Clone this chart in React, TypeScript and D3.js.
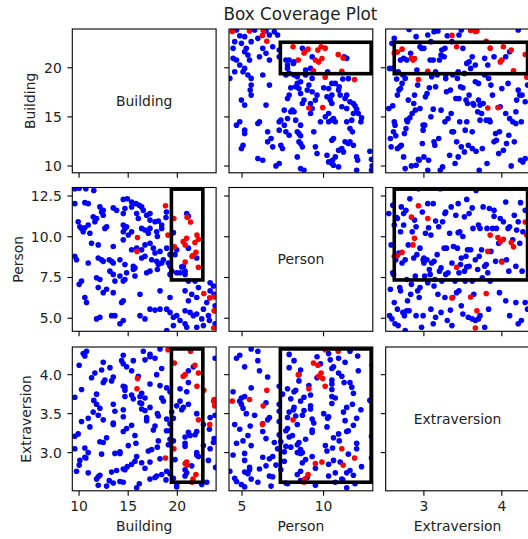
import React from "react";
import * as d3 from "d3";

const variables = ["Building", "Person", "Extraversion"];

// points outside the highlighted class
const blueBuilding = [
  9.57, 10.01, 10.69, 11.5, 9.57, 10.59, 10.93, 12.12, 12.46, 14.5,
  14.91, 15.35, 15.79, 16.13, 16.37, 16.54, 15.35, 12.29, 12.46, 13.48,
  13.82, 14.67, 14.5, 15.86, 16.03, 16.88, 17.22, 17.73, 18.07, 18.41,
  11.44, 11.78, 11.61, 17.22, 10.08, 10.25, 10.59, 10.42, 11.1, 10.93,
  12.63, 12.8, 14.5, 14.67, 14.84, 14.5, 15.35, 16.37, 16.71, 17.05,
  17.22, 17.9, 17.97, 18.41, 9.91, 11.27, 11.95, 13.48, 14.5, 15.01,
  15.35, 15.86, 16.37, 16.71, 17.22, 17.56, 17.73, 18.24, 18.92, 19.26,
  19.77, 19.94, 21.13, 9.57, 9.74, 11.95, 12.29, 12.46, 13.07, 13.31,
  13.48, 14.16, 14.67, 15.52, 15.69, 16.37, 16.71, 17.39, 17.9, 18.07,
  18.41, 18.58, 19.09, 19.26, 20.79, 20.62, 10.93, 10.25, 10.01, 11.78,
  12.12, 13.14, 13.48, 13.65, 14.16, 14.5, 14.67, 14.84, 15.52, 15.69,
  16.88, 17.22, 17.97, 19.26, 19.43, 19.94, 20.79, 21.13, 21.81, 23.34,
  23.68, 10.59, 10.76, 11.95, 12.46, 12.8, 13.48, 14.33, 14.5, 16.2,
  18.24, 19.26, 20.79, 21.13, 21.47, 21.98, 22.15, 23.34, 23.0, 23.75,
  11.78, 12.12, 13.31, 13.65, 14.5, 14.16, 16.2, 16.71, 17.22, 17.73,
  18.24, 18.92, 19.26, 19.6, 19.94, 20.28, 20.79, 21.3, 21.64, 21.98,
  22.49, 22.66, 23.17, 23.27, 23.85, 23.9, 19.6, 20.79, 20.96, 18.92,
  21.98, 22.66, 23.85, 19.6, 20.96, 21.13, 21.98, 20.45, 20.28, 18.9,
  18.85,
];
const bluePerson = [
  12.94, 12.98, 12.94, 12.84, 12.03, 12.09, 12.03, 11.83, 11.62, 12.29,
  12.33, 12.13, 12.03, 11.93, 11.83, 11.62, 11.83, 11.52, 11.32, 11.77,
  11.62, 11.73, 11.42, 11.42, 11.12, 11.32, 11.02, 10.92, 10.96, 10.72,
  11.22, 11.12, 10.92, 11.42, 10.61, 10.51, 10.55, 10.31, 10.21, 10.72,
  10.51, 10.61, 10.72, 10.51, 10.61, 10.31, 10.31, 10.51, 10.41, 10.21,
  10.51, 10.31, 10.01, 10.51, 10.92, 9.6, 9.5, 9.4, 9.81, 10.11,
  9.2, 9.3, 9.2, 9.5, 9.6, 9.3, 9.0, 9.1, 9.3, 8.9,
  8.9, 9.2, 9.3, 8.8, 8.59, 8.7, 8.59, 8.49, 8.59, 8.49,
  8.39, 8.59, 8.29, 8.19, 8.09, 8.7, 8.8, 8.59, 8.49, 8.29,
  8.39, 8.59, 8.39, 8.19, 7.89, 8.19, 8.39, 7.28, 7.08, 7.48,
  7.38, 7.89, 7.69, 7.28, 7.59, 7.28, 7.38, 7.79, 7.99, 7.59,
  7.79, 7.89, 7.99, 7.69, 7.89, 7.79, 7.69, 7.28, 7.28, 7.18,
  6.98, 6.27, 5.97, 6.88, 6.57, 6.78, 6.57, 5.97, 6.07, 6.47,
  6.68, 6.27, 6.68, 6.07, 6.47, 6.27, 6.88, 6.68, 5.97, 6.47,
  4.96, 5.06, 5.16, 5.16, 4.86, 4.66, 5.16, 4.96, 5.56, 5.5,
  5.56, 5.56, 5.36, 5.06, 5.16, 4.86, 5.46, 5.36, 5.16, 5.26,
  4.96, 5.56, 5.16, 4.86, 5.77, 5.46, 4.55, 4.66, 4.45, 4.25,
  4.45, 4.55, 4.66, 10.25, 11.42, 11.26, 8.7, 8.15, 7.79, 11.52,
  11.18,
];
const blueExtraversion = [
  3.21, 4.12, 2.93, 3.67, 3.05, 4.24, 3.44, 2.71, 3.9, 3.55,
  2.82, 4.05, 3.12, 2.6, 3.76, 4.3, 3.35, 2.98, 4.16, 3.62,
  2.77, 3.84, 3.27, 2.55, 3.98, 3.41, 2.88, 4.21, 3.15, 3.7,
  3.52, 2.66, 4.02, 3.58, 2.9, 3.81, 3.06, 4.27, 3.33, 2.74,
  3.93, 3.19, 2.62, 3.72, 4.1, 3.46, 2.85, 3.63, 4.19, 3.02,
  3.88, 2.7, 3.5, 4.08, 3.24, 3.96, 2.58, 3.38, 4.14, 3.09,
  3.74, 2.95, 3.56, 2.8, 4.23, 3.29, 2.68, 3.86, 3.43, 3.17,
  2.91, 3.6, 3.26, 3.71, 2.76, 3.48, 4.06, 3.13, 2.64, 3.92,
  3.36, 2.99, 3.8, 4.18, 3.22, 2.87, 3.54, 3.04, 4.0, 3.47,
  2.72, 3.66, 3.1, 3.78, 3.2, 3.58, 3.0, 3.4, 2.84, 3.75,
  3.14, 4.09, 2.61, 3.53, 3.01, 3.85, 2.78, 3.31, 3.69, 2.89,
  3.45, 4.26, 3.07, 3.28, 3.52, 2.6, 3.08, 3.62, 3.23, 3.05,
  3.13, 2.94, 4.3, 2.69, 3.42, 2.57, 3.97, 4.18, 2.79, 3.64,
  2.92, 3.37, 2.7, 4.05, 2.83, 3.27, 2.95, 3.45, 2.62, 3.18,
  3.62, 3.57, 2.75, 2.99, 4.25, 2.63, 3.72, 3.7, 2.66, 3.34,
  4.33, 3.83, 2.73, 3.15, 2.56, 3.66, 2.78, 3.22, 4.1, 3.5,
  2.59, 3.09, 2.9, 3.3, 3.48, 2.81, 2.67, 3.12, 3.78, 2.76,
  2.97, 3.36, 4.21, 3.44, 2.74, 3.9, 3.0, 3.55, 3.82, 3.28,
  2.65,
];

// highlighted points
const redBuilding = [
  18.8, 19.65, 21.0, 21.35, 19.05, 20.95, 20.6, 22.0, 22.15, 20.8,
  21.8, 19.7, 21.6, 21.5, 21.9, 20.8, 22.15, 15.95, 15.9, 22.7,
  23.3, 23.8, 23.75, 23.7,
];
const redPerson = [
  11.9, 11.12, 11.2, 10.9, 10.1, 9.9, 9.7, 10.1, 9.85, 9.5,
  9.65, 9.38, 8.85, 8.8, 9.05, 8.45, 8.13, 9.95, 9.1, 6.52,
  6.25, 6.3, 5.46, 4.4,
];
const redExtraversion = [
  2.93, 3.05, 2.84, 4.3, 4.32, 2.88, 3.98, 3.85, 4.02, 2.86,
  4.12, 4.15, 2.66, 2.62, 2.72, 4.0, 3.42, 3.95, 3.82, 3.8,
  3.36, 3.6, 3.68, 3.66,
];

// coverage box per variable
const boxLimits: Record<string, number[]> = {
  Building: [19.4, 22.6],
  Person: [7.35, 12.92],
  Extraversion: [2.62, 4.33],
};

const domains: Record<string, number[]> = {
  Building: [9.31, 23.95],
  Person: [4.2, 13.02],
  Extraversion: [2.51, 4.355],
};

const xTickValues: Record<string, number[]> = {
  Building: [10, 15, 20],
  Person: [5, 10],
  Extraversion: [3, 4],
};
const yTickValues: Record<string, number[]> = {
  Building: [10, 15, 20],
  Person: [5, 7.5, 10, 12.5],
  Extraversion: [3, 3.5, 4],
};
const yTickFormat: Record<string, (n: number) => string> = {
  Building: d3.format("d"),
  Person: d3.format(".1f"),
  Extraversion: d3.format(".1f"),
};

const FONT = "DejaVu Sans, sans-serif";

export default function App() {
  const width = 528;
  const height = 539;
  const colLeft = [72.3, 229, 385.7];
  const rowTop = [29, 187.5, 347];
  const size = 143.8;
  const tickLen = 4.9;
  const ylabelX = [35.2, 22.5, 31];

  const values: Record<string, { blue: number[]; red: number[] }> = {
    Building: { blue: blueBuilding, red: redBuilding },
    Person: { blue: bluePerson, red: redPerson },
    Extraversion: { blue: blueExtraversion, red: redExtraversion },
  };

  const xs = variables.map((v, i) =>
    d3.scaleLinear().domain(domains[v]).range([colLeft[i], colLeft[i] + size])
  );
  const ys = variables.map((v, i) =>
    d3.scaleLinear().domain(domains[v]).range([rowTop[i] + size, rowTop[i]])
  );

  const panels: JSX.Element[] = [];
  variables.forEach((rowVar, r) => {
    variables.forEach((colVar, c) => {
      const x = xs[c];
      const y = ys[r];
      const left = colLeft[c];
      const top = rowTop[r];
      const id = `clip-${r}-${c}`;
      const content: JSX.Element[] = [];

      if (r === c) {
        content.push(
          <text
            key="diag"
            x={left + size / 2}
            y={top + size / 2}
            textAnchor="middle"
            dominantBaseline="central"
            fontSize={13.9}
            fontFamily={FONT}
            fill="#222"
          >
            {rowVar}
          </text>
        );
      } else {
        const bx = values[colVar].blue;
        const by = values[rowVar].blue;
        const rx = values[colVar].red;
        const ry = values[rowVar].red;
        const bc = boxLimits[colVar];
        const br = boxLimits[rowVar];
        content.push(
          <g key="pts" clipPath={`url(#${id})`}>
            {bx.map((v, i) => (
              <circle key={"b" + i} cx={x(v)} cy={y(by[i])} r={2.8} fill="#0000ff" />
            ))}
            {rx.map((v, i) => (
              <circle key={"r" + i} cx={x(v)} cy={y(ry[i])} r={2.8} fill="#ff0000" />
            ))}
            <rect
              x={x(bc[0])}
              y={y(br[1])}
              width={x(bc[1]) - x(bc[0])}
              height={y(br[0]) - y(br[1])}
              fill="none"
              stroke="#000"
              strokeWidth={3.6}
            />
          </g>
        );
      }

      // ticks
      const ticks: JSX.Element[] = [];
      xTickValues[colVar].forEach((t) => {
        const px = x(t);
        ticks.push(
          <line key={"xt" + t} x1={px} x2={px} y1={top + size} y2={top + size + tickLen} stroke="#000" strokeWidth={1.1} />
        );
        if (r === 2) {
          ticks.push(
            <text key={"xl" + t} x={px} y={top + size + 20.5} textAnchor="middle" fontSize={13.9} fontFamily={FONT} fill="#222">
              {String(t)}
            </text>
          );
        }
      });
      yTickValues[rowVar].forEach((t) => {
        const py = y(t);
        ticks.push(
          <line key={"yt" + t} x1={left - tickLen} x2={left} y1={py} y2={py} stroke="#000" strokeWidth={1.1} />
        );
        if (c === 0) {
          ticks.push(
            <text key={"yl" + t} x={left - 10.5} y={py} textAnchor="end" dominantBaseline="central" fontSize={13.9} fontFamily={FONT} fill="#222">
              {yTickFormat[rowVar](t)}
            </text>
          );
        }
      });

      panels.push(
        <g key={id}>
          <defs>
            <clipPath id={id}>
              <rect x={left} y={top} width={size} height={size} />
            </clipPath>
          </defs>
          {content}
          <rect x={left} y={top} width={size} height={size} fill="none" stroke="#000" strokeWidth={1.1} />
          {ticks}
        </g>
      );
    });
  });

  return (
    <svg
      width={width}
      height={height}
      style={{ position: "absolute", left: 0, top: 0, background: "#fff" }}
    >
      <rect x={0} y={0} width={width} height={height} fill="#fff" />
      <text x={300.5} y={20} textAnchor="middle" fontSize={16.8} fontFamily={FONT} fill="#222">
        Box Coverage Plot
      </text>
      {panels}
      {variables.map((v, i) => (
        <text
          key={"ylab" + v}
          transform={`translate(${ylabelX[i]},${rowTop[i] + size / 2}) rotate(-90)`}
          textAnchor="middle"
          fontSize={13.9}
          fontFamily={FONT}
          fill="#222"
        >
          {v}
        </text>
      ))}
      {variables.map((v, i) => (
        <text
          key={"xlab" + v}
          x={colLeft[i] + size / 2}
          y={531}
          textAnchor="middle"
          fontSize={13.9}
          fontFamily={FONT}
          fill="#222"
        >
          {v}
        </text>
      ))}
    </svg>
  );
}
